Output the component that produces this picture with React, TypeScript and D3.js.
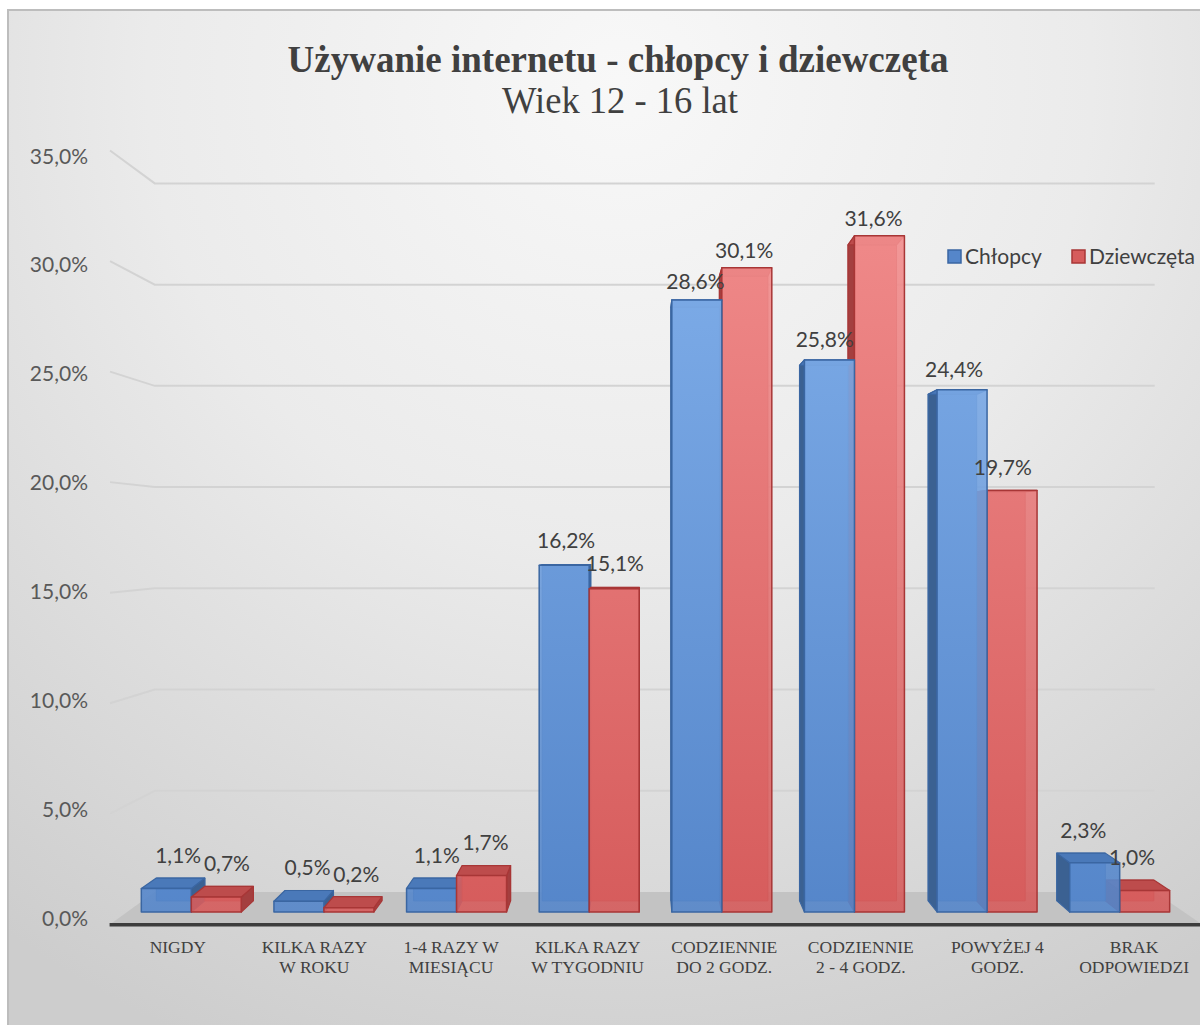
import React from "react";
import * as d3 from "d3";

const categories: string[][] = [
  ["NIGDY"],
  ["KILKA RAZY", "W ROKU"],
  ["1-4 RAZY W", "MIESIĄCU"],
  ["KILKA RAZY", "W TYGODNIU"],
  ["CODZIENNIE", "DO 2 GODZ."],
  ["CODZIENNIE", "2 - 4 GODZ."],
  ["POWYŻEJ 4", "GODZ."],
  ["BRAK", "ODPOWIEDZI"],
];
const chlopcy = [1.1, 0.5, 1.1, 16.2, 28.6, 25.8, 24.4, 2.3];
const dziewczeta = [0.7, 0.2, 1.7, 15.1, 30.1, 31.6, 19.7, 1.0];
const seriesNames = ["Chłopcy", "Dziewczęta"];
const yTicks = [0, 5, 10, 15, 20, 25, 30, 35];
const title = "Używanie internetu - chłopcy i dziewczęta";
const subtitle = "Wiek 12 - 16 lat";

const W = 1200;
const H = 1025;
const VP = { x: 641, y: 541 };
const R_WALL = 0.946;
const R_BAR_BACK = 0.97;
const R_FLOOR = 1.03;
const R_LEFT = 1.033;
const R_TICK = 1.018;
const R_LABEL = 0.975;

const P = (x: number, y: number, r: number): [number, number] => [
  VP.x + (x - VP.x) * r,
  VP.y + (y - VP.y) * r,
];
const pts = (a: [number, number][]) => a.map((p) => p.join(",")).join(" ");
const fmt = (v: number) => v.toFixed(1).replace(".", ",") + "%";

const SANS = "Lato, sans-serif";
const SERIF = "Liberation Serif, serif";

const palette = [
  { light: "#88b6f0", dark: "#5586ca", side: "#3b6192", top: "#4a79b9", edge: "#3a66a2" },
  { light: "#f59393", dark: "#d65c5c", side: "#a43f3f", top: "#bd4c4c", edge: "#a83636" },
];

export default function App() {
  const xL = 127;
  const xR = 1184;
  const y = d3.scaleLinear().domain([0, 35]).range([912, 163]);
  const x = d3
    .scaleBand<number>()
    .domain(categories.map((_, i) => i))
    .range([125, 1186])
    .paddingInner(0.246)
    .paddingOuter(0.123);
  const bw = x.bandwidth() / 2;

  const bars: { cat: number; s: number; v: number; x0: number; x1: number }[] = [];
  [chlopcy, dziewczeta].forEach((arr, s) =>
    arr.forEach((v, i) => {
      const x0 = (x(i) as number) + s * bw;
      bars.push({ cat: i, s, v, x0, x1: x0 + bw });
    })
  );
  const order = [...bars].sort(
    (a, b) =>
      Math.abs((b.x0 + b.x1) / 2 - VP.x) - Math.abs((a.x0 + a.x1) / 2 - VP.x)
  );
  const y0 = y(0);

  return (
    <svg
      width={W}
      height={H}
      style={{ position: "absolute", left: 0, top: 0, display: "block" }}
    >
      <defs>
        <radialGradient id="bg" cx="620" cy="80" r="1050" gradientUnits="userSpaceOnUse">
          <stop offset="0" stopColor="#f8f8f8" />
          <stop offset="0.45" stopColor="#ebebeb" />
          <stop offset="1" stopColor="#cdcdcd" />
        </radialGradient>
        {palette.map((c, i) => (
          <linearGradient
            key={i}
            id={"front" + i}
            x1="0"
            y1={y(35)}
            x2="0"
            y2={y0}
            gradientUnits="userSpaceOnUse"
          >
            <stop offset="0" stopColor={c.light} />
            <stop offset="1" stopColor={c.dark} />
          </linearGradient>
        ))}
      </defs>
      <rect x={8} y={10} width={W} height={H} fill="url(#bg)" stroke="#bdbdbd" strokeWidth={2} />

      {/* title */}
      <text
        x={618}
        y={72}
        textAnchor="middle"
        fontFamily={SERIF}
        fontWeight="bold"
        fontSize={37}
        textLength={661}
        lengthAdjust="spacingAndGlyphs"
        fill="#404040"
      >
        {title}
      </text>
      <text
        x={620}
        y={113}
        textAnchor="middle"
        fontFamily={SERIF}
        fontSize={37}
        textLength={236}
        lengthAdjust="spacingAndGlyphs"
        fill="#404040"
      >
        {subtitle}
      </text>

      {/* gridlines */}
      {yTicks
        .filter((t) => t > 0)
        .map((t) => {
          const yy = y(t);
          const a = P(xL, yy, R_LEFT);
          const b = P(xL, yy, R_WALL);
          const c = P(xR, yy, R_WALL);
          return (
            <polyline
              key={t}
              points={pts([a, b, c])}
              fill="none"
              stroke="#d3d3d3"
              strokeWidth={2}
            />
          );
        })}

      {/* y tick labels */}
      {yTicks.map((t) => (
        <text
          key={t}
          x={88}
          y={VP.y + (y(t) - VP.y) * R_TICK}
          dy="0.35em"
          textAnchor="end"
          fontFamily={SANS}
          fontSize={21}
          fill="#595959"
        >
          {fmt(t)}
        </text>
      ))}

      {/* floor */}
      <polygon
        points={pts([P(xL, y0, R_WALL), P(xR, y0, R_WALL), P(xR, y0, R_FLOOR), P(xL, y0, R_FLOOR)])}
        fill="#c3c3c3"
      />
      <line
        x1={P(xL, y0, R_FLOOR)[0] - 2}
        x2={W}
        y1={P(xL, y0, R_FLOOR)[1] + 1.5}
        y2={P(xL, y0, R_FLOOR)[1] + 1.5}
        stroke="#3d3d3d"
        strokeWidth={3.5}
      />

      {/* bars */}
      {order.map((b) => {
        const c = palette[b.s];
        const yt = y(b.v);
        const back = [P(b.x0, yt, R_BAR_BACK), P(b.x1, yt, R_BAR_BACK), P(b.x1, y0, R_BAR_BACK), P(b.x0, y0, R_BAR_BACK)];
        const left = [P(b.x0, yt, 1), P(b.x0, yt, R_BAR_BACK), P(b.x0, y0, R_BAR_BACK), P(b.x0, y0, 1)];
        const right = [P(b.x1, yt, 1), P(b.x1, yt, R_BAR_BACK), P(b.x1, y0, R_BAR_BACK), P(b.x1, y0, 1)];
        const top = [P(b.x0, yt, 1), P(b.x1, yt, 1), P(b.x1, yt, R_BAR_BACK), P(b.x0, yt, R_BAR_BACK)];
        const leftOfVp = (b.x0 + b.x1) / 2 < VP.x;
        const visSide = leftOfVp ? right : left;
        return (
          <g key={b.s + "-" + b.cat} strokeLinejoin="round">
            <polygon points={pts(back)} fill={c.dark} stroke={c.edge} strokeWidth={1} />
            <polygon points={pts(visSide)} fill={c.side} stroke={c.edge} strokeWidth={1.2} />
            <polygon points={pts(top)} fill={c.top} stroke={c.edge} strokeWidth={1.2} />
            <rect
              x={b.x0}
              y={yt}
              width={b.x1 - b.x0}
              height={y0 - yt}
              fill={`url(#front${b.s})`}
              fillOpacity={0.9}
              stroke={c.edge}
              strokeWidth={1.5}
            />
          </g>
        );
      })}

      {/* data labels */}
      {bars.map((b) => {
        const [lx, ly] = P((b.x0 + b.x1) / 2, y(b.v), R_LABEL);
        return (
          <text
            key={"l" + b.s + b.cat}
            x={lx}
            y={ly - 17}
            textAnchor="middle"
            fontFamily={SANS}
            fontSize={21}
            fill="#404040"
          >
            {fmt(b.v)}
          </text>
        );
      })}

      {/* category labels */}
      {categories.map((lines, i) => {
        const cx = P((x(i) as number) + x.bandwidth() / 2, y0, R_FLOOR)[0];
        return (
          <text
            key={"c" + i}
            x={cx}
            y={953}
            textAnchor="middle"
            fontFamily={SERIF}
            fontSize={17.5}
            fill="#404040"
          >
            {lines.map((ln, j) => (
              <tspan key={j} x={cx} dy={j === 0 ? 0 : 20}>
                {ln}
              </tspan>
            ))}
          </text>
        );
      })}

      {/* legend */}
      {seriesNames.map((n, i) => {
        const lx = [948, 1072][i];
        return (
          <g key={n}>
            <rect
              x={lx}
              y={250}
              width={13}
              height={13}
              fill={palette[i].dark}
              stroke={palette[i].edge}
              strokeWidth={1.5}
            />
            <text x={lx + 17} y={264} fontFamily={SANS} fontSize={21} fill="#404040">
              {n}
            </text>
          </g>
        );
      })}
    </svg>
  );
}
